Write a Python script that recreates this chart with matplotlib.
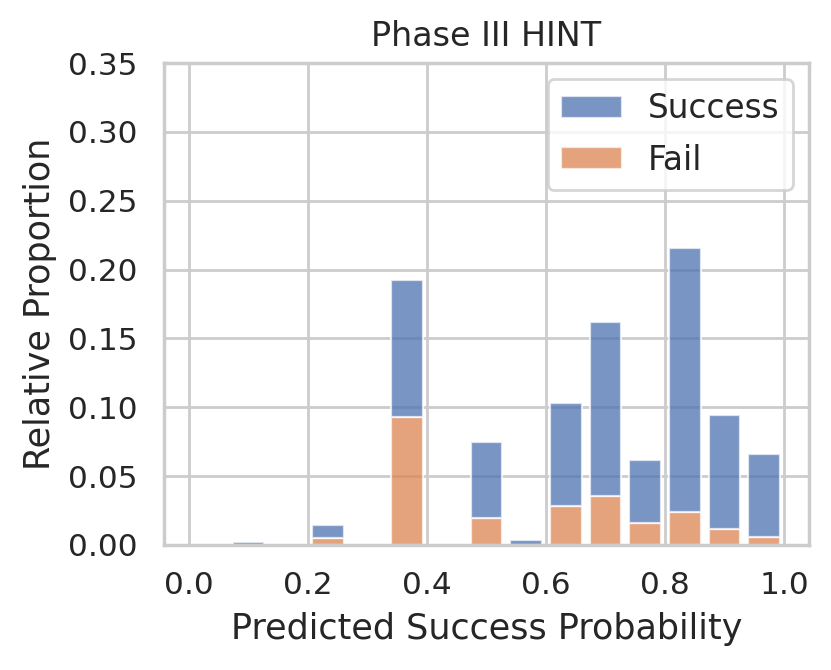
import numpy as np
import matplotlib
matplotlib.use("Agg")
import matplotlib.pyplot as plt
import seaborn as sns

# 15 equal bins over [0, 1]; bar heights are stacked proportions
bin_edges = np.linspace(0, 1, 16)
# total (stack top) and fail part
total_top = [0.0, 0.0024, 0.0, 0.0146, 0.0, 0.1923, 0.0, 0.0751,
             0.0034, 0.1031, 0.1616, 0.0620, 0.2158, 0.0943, 0.0661]
fail_vals = [0.0, 0.0, 0.0, 0.0049, 0.0, 0.0931, 0.0, 0.0199,
             0.0, 0.0280, 0.0357, 0.0158, 0.0243, 0.0119, 0.0058]
labels = ["Success", "Fail"]

sns.set_theme(style="whitegrid", context="notebook")
plt.rcParams['font.family'] = ['DejaVu Sans']

centers = (bin_edges[:-1] + bin_edges[1:]) / 2
binw = bin_edges[1] - bin_edges[0]
success_vals = np.array(total_top) - np.array(fail_vals)

pal = sns.color_palette("deep")
fig = plt.figure(figsize=(831 / 200, 670 / 200), dpi=200)
ax = fig.add_axes([164 / 831, 1 - 545 / 670, (809 - 164) / 831, (545 - 63) / 670])

ax.bar(centers, fail_vals, width=binw * 0.8, color=pal[1], alpha=0.75,
       edgecolor="white", linewidth=0.8, label=labels[1], zorder=2)
ax.bar(centers, success_vals, width=binw * 0.8, bottom=fail_vals, color=pal[0],
       alpha=0.75, edgecolor="white", linewidth=0.8, label=labels[0], zorder=2)

ax.set_xlim(-0.042, 1.042)
ax.set_ylim(0, 0.35)
ax.set_xticks(np.arange(0, 1.01, 0.2))
ax.set_yticks(np.arange(0, 0.351, 0.05))
ax.tick_params(labelsize=11.2)
ax.set_xlabel("Predicted Success Probability", fontsize=12.6)
ax.set_ylabel("Relative Proportion", fontsize=12.6)
ax.set_title("Phase III HINT", fontsize=12)

h, l = ax.get_legend_handles_labels()
ax.legend(h[::-1], l[::-1], loc="upper right", fontsize=11.8, labelspacing=0.55,
          handleheight=0.65, handlelength=1.85)

fig.savefig("out.png", dpi=200)
